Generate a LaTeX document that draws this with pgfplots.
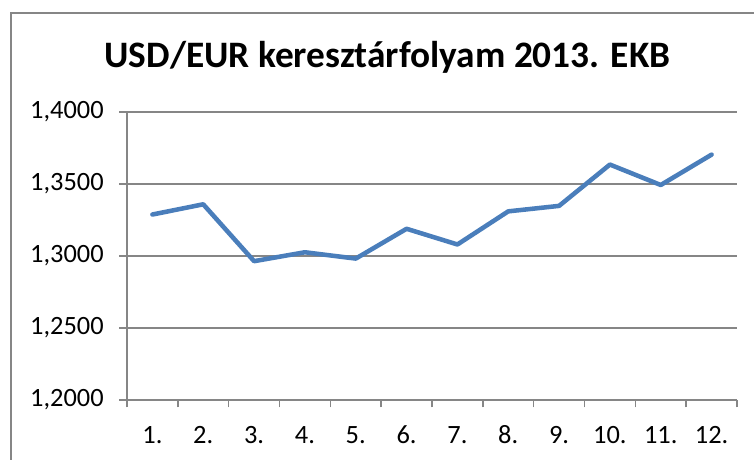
\documentclass[border=0pt]{standalone}
\usepackage{fontspec}
\setmainfont{Carlito}
\usepackage{pgfplots}
\pgfplotsset{compat=1.18}
\definecolor{lineblue}{HTML}{4A7EBB}
\definecolor{gridgray}{HTML}{868686}
\begin{document}
\begin{tikzpicture}[x=0.75pt,y=0.75pt]
\useasboundingbox (0,0) rectangle (754,460);
\draw[gridgray, line width=1.5] (11,0) -- (11,447) -- (754,447);
\node[font=\bfseries\fontsize{28}{32}\selectfont, anchor=center] at (387.5,403) {USD/EUR keresztárfolyam 2013. EKB};
\begin{axis}[
  at={(127*0.75pt,60*0.75pt)}, anchor=south west,
  scale only axis, width=457.5pt, height=216pt,
  xmin=0.5, xmax=12.5, ymin=1.2, ymax=1.4,
  axis x line*=bottom, axis y line*=left,
  axis line style={gridgray, line width=1.1pt},
  xtick={1,...,12},
  xticklabels={1.,2.,3.,4.,5.,6.,7.,8.,9.,10.,11.,12.},
  minor xtick={0.5,1.5,...,12.5},
  ytick={1.2,1.25,1.3,1.35,1.4},
  yticklabels={{1,2000},{1,2500},{1,3000},{1,3500},{1,4000}},
  tick align=outside,
  major tick length=6pt, minor tick length=5.5pt,
  x tick style={draw=none},
  minor x tick style={draw=gridgray, line width=1.1pt},
  y tick style={draw=gridgray, line width=1.1pt},
  ymajorgrids, grid style={gridgray, line width=1.1pt},
  typeset ticklabels with strut,
  tick label style={font=\fontsize{19.8}{23}\selectfont, text=black},
  yticklabel style={xshift=-8pt},
  xticklabel style={yshift=-7pt},
  clip=false,
]
\addplot[lineblue, line width=3.4pt, line join=round, line cap=round] coordinates {
(1,1.3288) (2,1.3359) (3,1.2964) (4,1.3026) (5,1.2982) (6,1.3189)
(7,1.3080) (8,1.3310) (9,1.3348) (10,1.3635) (11,1.3493) (12,1.3704)
};
\end{axis}
\end{tikzpicture}
\end{document}
